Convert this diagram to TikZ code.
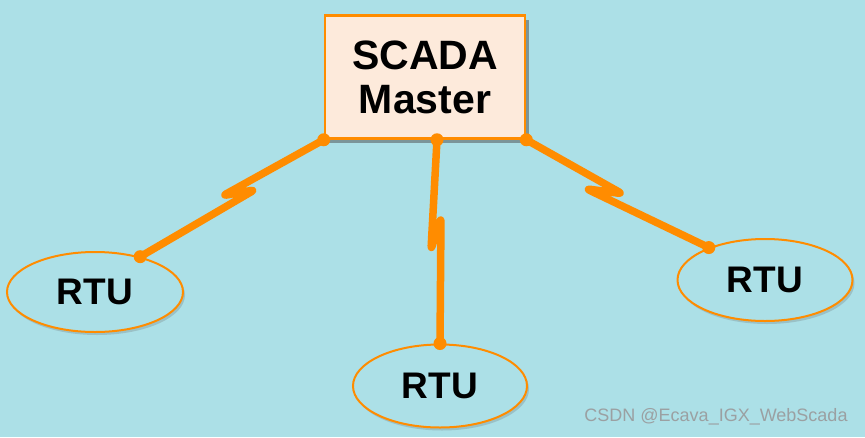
\documentclass[tikz,border=0pt]{standalone}
\usepackage{fontspec}
\setmainfont{Liberation Sans}
\usetikzlibrary{shapes.geometric,shadows}
\definecolor{bgcyan}{RGB}{172,224,231}
\definecolor{linkorange}{RGB}{255,140,0}
\definecolor{masterfill}{RGB}{253,234,219}
\definecolor{markgray}{RGB}{155,160,162}

\begin{document}
\begin{tikzpicture}[x=1pt,y=-1pt,
  master/.style={draw=linkorange,line width=2.5pt,fill=masterfill,minimum width=200pt,minimum height=123pt,
    inner sep=0pt,align=center,font=\fontsize{41}{44}\selectfont\bfseries,
    drop shadow={shadow xshift=4pt,shadow yshift=-4pt,opacity=0.5,fill=black!70}},
  rtu/.style={ellipse,draw=linkorange,line width=2pt,fill=bgcyan,inner sep=0pt,
    font=\fontsize{37}{40}\selectfont\bfseries,
    drop shadow={shadow xshift=2pt,shadow yshift=-3pt,opacity=0.25,fill=black!60}},
  link/.style={draw=linkorange,line width=7.5pt,rounded corners=4pt,line cap=round,line join=round}]
% background
\fill[bgcyan] (0,0) rectangle (865,437);
% master and the three RTUs
\node[master] (master) at (425,77) {SCADA\\Master};
\node[rtu,minimum width=176pt,minimum height=80pt] (rtuL) at (95,292) {RTU};
\node[rtu,minimum width=174pt,minimum height=83pt] (rtuM) at (440,386) {RTU};
\node[rtu,minimum width=175pt,minimum height=82pt] (rtuR) at (765,280) {RTU};
\coordinate (mtap) at ([xshift=12pt]master.south);
% radio links
\draw[link] (master.south west) -- ++(-101,56) -- ++(32,-6) -- (rtuL.38);
\draw[link] (mtap) -- ++(-6,110) -- ++(10,-32) -- (rtuM.north);
\draw[link] (master.south east) -- ++(96,54) -- ++(-36,-5) -- (rtuR.150);
\foreach \p in {master.south west,mtap,master.south east,rtuL.38,rtuM.north,rtuR.150}
\fill[linkorange] (\p) circle (6.5pt);
% watermark
\node[text=markgray] (mark) at (716,417) {\fontsize{18}{20}\selectfont CSDN @Ecava\_IGX\_WebScada};
\end{tikzpicture}
\end{document}
